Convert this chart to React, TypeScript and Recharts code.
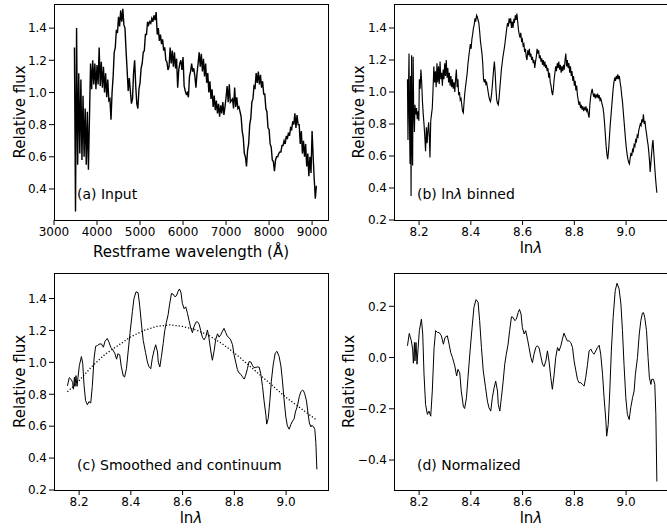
import { LineChart, Line, XAxis, YAxis } from 'recharts'

const FONT = '"DejaVu Sans", Verdana, sans-serif'

// (a) input spectrum, one sample every 25 Å starting at 3475 Å
const INPUT_START = 3475
const INPUT_STEP = 25
const inputFlux = [
  1.28, 0.26, 1.40, 0.55, 1.12, 0.62, 1.08, 0.58, // 3475
  0.98, 0.60, 0.90, 0.55, 0.88, 0.52, 0.85, 1.18, // 3675
  1.02, 1.20, 1.05, 1.18, 1.02, 1.17, 1.05, 1.28, // 3875
  1.04, 1.19, 1.03, 1.16, 1.00, 1.12, 0.97, 1.08, // 4075
  0.95, 0.96, 0.83, 1.00, 1.10, 1.25, 1.28, 1.39, // 4275
  1.37, 1.47, 1.41, 1.51, 1.44, 1.52, 1.42, 1.40, // 4475
  1.26, 1.14, 1.01, 1.09, 1.01, 0.93, 0.96, 1.12, // 4675
  1.20, 1.04, 0.93, 0.90, 1.02, 1.06, 1.15, 1.18, // 4875
  1.25, 1.26, 1.36, 1.36, 1.44, 1.42, 1.44, 1.43, // 5075
  1.46, 1.44, 1.48, 1.45, 1.50, 1.36, 1.40, 1.32, // 5275
  1.36, 1.30, 1.33, 1.26, 1.28, 1.20, 1.19, 1.14, // 5475
  1.16, 1.28, 1.18, 1.26, 1.16, 1.25, 1.15, 1.21, // 5675
  1.03, 1.14, 1.18, 1.20, 1.14, 1.22, 1.04, 1.01, // 5875
  0.99, 1.00, 0.97, 1.10, 1.13, 1.18, 1.13, 1.15, // 6075
  1.10, 1.03, 1.12, 1.18, 1.25, 1.16, 1.24, 1.13, // 6275
  1.21, 1.10, 1.18, 1.06, 1.12, 1.00, 1.07, 0.96, // 6475
  1.02, 0.91, 0.98, 0.89, 0.95, 0.87, 0.93, 0.85, // 6675
  0.92, 0.87, 0.94, 0.86, 0.91, 0.97, 1.04, 0.94, // 6875
  1.05, 0.94, 0.95, 0.96, 0.90, 1.03, 0.91, 0.97, // 7075
  0.90, 0.91, 0.88, 0.85, 0.76, 0.72, 0.62, 0.60, // 7275
  0.54, 0.64, 0.68, 0.80, 0.84, 0.94, 0.96, 1.04, // 7475
  1.03, 1.12, 1.06, 1.13, 1.05, 1.11, 1.03, 1.07, // 7675
  0.99, 0.99, 0.90, 0.88, 0.78, 0.77, 0.68, 0.66, // 7875
  0.58, 0.57, 0.51, 0.58, 0.60, 0.60, 0.62, 0.63, // 8075
  0.63, 0.67, 0.67, 0.70, 0.68, 0.73, 0.71, 0.75, // 8275
  0.73, 0.78, 0.77, 0.82, 0.80, 0.87, 0.78, 0.86, // 8475
  0.80, 0.80, 0.68, 0.76, 0.62, 0.70, 0.60, 0.68, // 8675
  0.54, 0.62, 0.48, 0.60, 0.50, 0.76, 0.60, 0.46, // 8875
  0.34, 0.42, // 9075
]

// (b) spectrum rebinned in ln(lambda): [ln lambda, flux]
const binnedPoints: [number, number][] = [
  [8.155, 1.08], [8.157, 0.70], [8.159, 1.0], [8.161, 1.24], [8.163, 0.8], [8.165, 0.55],
  [8.167, 1.1], [8.169, 0.35], [8.171, 1.23], [8.173, 0.7], [8.175, 0.54], [8.177, 1.22],
  [8.179, 0.9], [8.182, 0.75], [8.184, 0.92], [8.187, 0.86], [8.19, 0.9], [8.193, 0.83],
  [8.196, 0.88], [8.199, 0.82], [8.201, 1.08], [8.204, 1.02], [8.207, 1.14], [8.21, 1.06],
  [8.213, 0.94], [8.216, 0.86], [8.219, 0.8], [8.222, 0.72], [8.225, 0.63], [8.228, 0.78],
  [8.231, 0.68], [8.234, 0.76], [8.237, 0.81], [8.24, 0.7], [8.242, 0.59], [8.245, 0.82],
  [8.248, 0.86], [8.251, 0.9], [8.254, 1.02], [8.257, 1.16], [8.26, 1.06], [8.263, 1.13],
  [8.266, 1.03], [8.269, 1.18], [8.272, 1.06], [8.275, 1.16], [8.278, 1.05], [8.281, 1.19],
  [8.284, 1.08], [8.287, 1.12], [8.29, 1.04], [8.293, 1.14], [8.296, 1.08], [8.299, 1.18],
  [8.302, 1.1], [8.305, 1.2], [8.308, 1.09], [8.311, 1.15], [8.314, 1.06], [8.317, 1.12],
  [8.32, 1.04], [8.323, 1.1], [8.326, 1.03], [8.329, 1.08], [8.332, 1.02], [8.335, 1.06],
  [8.338, 1.0], [8.341, 1.08], [8.344, 1.14], [8.347, 1.03], [8.35, 1.08], [8.353, 0.98],
  [8.356, 1.0], [8.359, 0.95], [8.362, 0.96], [8.365, 0.92], [8.368, 0.88], [8.371, 0.87],
  [8.374, 0.94], [8.377, 1.0], [8.38, 1.04], [8.383, 1.08], [8.386, 1.12], [8.389, 1.18],
  [8.392, 1.22], [8.395, 1.26], [8.398, 1.3], [8.401, 1.27], [8.404, 1.33], [8.407, 1.36],
  [8.41, 1.4], [8.413, 1.42], [8.416, 1.46], [8.419, 1.44], [8.422, 1.48], [8.425, 1.47],
  [8.428, 1.45], [8.431, 1.43], [8.434, 1.38], [8.437, 1.32], [8.44, 1.28], [8.443, 1.24],
  [8.446, 1.18], [8.449, 1.08], [8.452, 1.06], [8.455, 1.08], [8.458, 1.05], [8.461, 1.06],
  [8.464, 1.03], [8.467, 1.0], [8.47, 0.97], [8.473, 0.95], [8.476, 0.94], [8.479, 0.97],
  [8.482, 1.02], [8.485, 1.08], [8.488, 1.14], [8.491, 1.19], [8.494, 1.12], [8.497, 1.02],
  [8.5, 0.95], [8.503, 0.93], [8.506, 0.92], [8.509, 0.96], [8.512, 1.02], [8.515, 1.08],
  [8.518, 1.14], [8.521, 1.18], [8.524, 1.22], [8.527, 1.25], [8.53, 1.28], [8.533, 1.32],
  [8.536, 1.36], [8.539, 1.4], [8.542, 1.43], [8.545, 1.41], [8.548, 1.46], [8.551, 1.43],
  [8.554, 1.46], [8.557, 1.4], [8.56, 1.44], [8.563, 1.4], [8.566, 1.45], [8.569, 1.44],
  [8.572, 1.48], [8.575, 1.45], [8.578, 1.49], [8.581, 1.44], [8.584, 1.39], [8.587, 1.36],
  [8.59, 1.34], [8.593, 1.37], [8.596, 1.32], [8.599, 1.33], [8.602, 1.29], [8.605, 1.3],
  [8.608, 1.25], [8.611, 1.27], [8.614, 1.22], [8.617, 1.2], [8.62, 1.26], [8.623, 1.23],
  [8.626, 1.27], [8.629, 1.22], [8.632, 1.24], [8.635, 1.2], [8.638, 1.22], [8.641, 1.18],
  [8.644, 1.2], [8.647, 1.15], [8.65, 1.19], [8.653, 1.22], [8.656, 1.27], [8.659, 1.24],
  [8.662, 1.26], [8.665, 1.21], [8.668, 1.23], [8.671, 1.19], [8.674, 1.21], [8.677, 1.17],
  [8.68, 1.2], [8.683, 1.16], [8.686, 1.19], [8.689, 1.15], [8.692, 1.17], [8.695, 1.13],
  [8.698, 1.15], [8.701, 1.09], [8.704, 1.12], [8.707, 1.06], [8.71, 1.04], [8.713, 1.0],
  [8.716, 0.98], [8.719, 1.02], [8.722, 1.08], [8.725, 1.12], [8.728, 1.16], [8.731, 1.13],
  [8.734, 1.18], [8.737, 1.15], [8.74, 1.19], [8.743, 1.14], [8.746, 1.17], [8.749, 1.12],
  [8.752, 1.16], [8.755, 1.13], [8.758, 1.17], [8.761, 1.14], [8.764, 1.2], [8.767, 1.24],
  [8.77, 1.16], [8.773, 1.2], [8.776, 1.15], [8.779, 1.18], [8.782, 1.12], [8.785, 1.16],
  [8.788, 1.1], [8.791, 1.13], [8.794, 1.07], [8.797, 1.1], [8.8, 1.04], [8.803, 1.07],
  [8.806, 1.01], [8.809, 1.04], [8.812, 0.98], [8.815, 0.95], [8.818, 0.92], [8.821, 0.94],
  [8.824, 0.9], [8.827, 0.92], [8.83, 0.89], [8.833, 0.91], [8.836, 0.88], [8.839, 0.9],
  [8.842, 0.89], [8.845, 0.91], [8.848, 0.88], [8.851, 0.89], [8.854, 0.86], [8.857, 0.84],
  [8.86, 0.92], [8.863, 0.97], [8.866, 1.0], [8.869, 1.02], [8.872, 0.99], [8.875, 0.97],
  [8.878, 0.99], [8.881, 0.96], [8.884, 0.98], [8.887, 0.97], [8.89, 0.99], [8.893, 0.96],
  [8.896, 0.98], [8.899, 0.95], [8.902, 0.96], [8.905, 0.94], [8.908, 0.92], [8.911, 0.9],
  [8.914, 0.86], [8.917, 0.8], [8.92, 0.73], [8.923, 0.66], [8.926, 0.61], [8.929, 0.58],
  [8.932, 0.63], [8.935, 0.7], [8.938, 0.78], [8.941, 0.84], [8.944, 0.9], [8.947, 0.96],
  [8.95, 1.02], [8.953, 1.06], [8.956, 1.09], [8.959, 1.07], [8.962, 1.1], [8.965, 1.08],
  [8.968, 1.11], [8.971, 1.08], [8.974, 1.1], [8.977, 1.06], [8.98, 1.03], [8.983, 0.98],
  [8.986, 0.94], [8.989, 0.88], [8.992, 0.82], [8.995, 0.76], [8.998, 0.7], [9.001, 0.65],
  [9.004, 0.61], [9.007, 0.58], [9.01, 0.56], [9.013, 0.55], [9.016, 0.59], [9.019, 0.62],
  [9.022, 0.6], [9.025, 0.64], [9.028, 0.63], [9.031, 0.67], [9.034, 0.66], [9.037, 0.7],
  [9.04, 0.69], [9.043, 0.73], [9.046, 0.72], [9.049, 0.76], [9.052, 0.78], [9.055, 0.8],
  [9.058, 0.79], [9.061, 0.83], [9.064, 0.81], [9.067, 0.86], [9.07, 0.8], [9.073, 0.82],
  [9.076, 0.77], [9.079, 0.74], [9.082, 0.7], [9.085, 0.67], [9.088, 0.62], [9.091, 0.56],
  [9.093, 0.5], [9.096, 0.56], [9.099, 0.62], [9.102, 0.68], [9.104, 0.7], [9.107, 0.62],
  [9.11, 0.55], [9.113, 0.48], [9.116, 0.42], [9.119, 0.37],
]

// (c) and (d) share the ln(lambda) sampling
const smoothLn = [
  8.155, 8.162, 8.17, 8.175, 8.178, 8.182, 8.184, 8.188, 8.192, 8.196,
  8.201, 8.209, 8.214, 8.219, 8.225, 8.232, 8.238, 8.245, 8.251, 8.258,
  8.264, 8.271, 8.277, 8.286, 8.294, 8.3, 8.309, 8.316, 8.322, 8.329,
  8.338, 8.345, 8.35, 8.357, 8.363, 8.371, 8.376, 8.383, 8.389, 8.397,
  8.406, 8.412, 8.42, 8.428, 8.434, 8.441, 8.448, 8.457, 8.464, 8.47,
  8.477, 8.483, 8.49, 8.496, 8.503, 8.506, 8.512, 8.518, 8.525, 8.531,
  8.537, 8.544, 8.55, 8.557, 8.563, 8.57, 8.576, 8.583, 8.588, 8.594,
  8.599, 8.606, 8.612, 8.619, 8.625, 8.632, 8.638, 8.644, 8.651, 8.657,
  8.664, 8.67, 8.677, 8.683, 8.69, 8.696, 8.702, 8.709, 8.715, 8.722,
  8.728, 8.735, 8.741, 8.748, 8.754, 8.76, 8.767, 8.773, 8.78, 8.786,
  8.793, 8.799, 8.806, 8.812, 8.818, 8.825, 8.831, 8.838, 8.844, 8.851,
  8.857, 8.864, 8.87, 8.876, 8.883, 8.889, 8.896, 8.902, 8.909, 8.915,
  8.922, 8.925, 8.931, 8.937, 8.943, 8.95, 8.958, 8.965, 8.973, 8.98,
  8.986, 8.992, 8.999, 9.005, 9.012, 9.018, 9.025, 9.031, 9.036, 9.044,
  9.051, 9.057, 9.063, 9.067, 9.072, 9.079, 9.085, 9.09, 9.096, 9.099,
  9.106, 9.111, 9.115, 9.119,
]

const smoothFlux = [
  0.853, 0.904, 0.892, 0.874, 0.832, 0.908, 0.849, 0.917, 0.85, 0.908,
  0.98, 1.036, 0.994, 0.859, 0.76, 0.734, 0.754, 0.745, 0.849, 1.027,
  1.101, 1.105, 1.114, 1.116, 1.095, 1.132, 1.15, 1.124, 1.095, 1.082,
  1.056, 1.02, 1.054, 1.047, 0.973, 0.914, 0.908, 0.961, 1.058, 1.187,
  1.318, 1.399, 1.442, 1.437, 1.358, 1.24, 1.136, 1.061, 1.002, 0.973,
  0.96, 1.026, 1.076, 1.11, 1.065, 1.002, 0.971, 1.035, 1.117, 1.199,
  1.248, 1.298, 1.365, 1.431, 1.428, 1.411, 1.417, 1.446, 1.46, 1.436,
  1.37, 1.336, 1.348, 1.306, 1.262, 1.212, 1.186, 1.223, 1.251, 1.255,
  1.239, 1.199, 1.155, 1.141, 1.162, 1.203, 1.153, 1.071, 1.013, 1.074,
  1.143, 1.179, 1.158, 1.174, 1.195, 1.213, 1.186, 1.163, 1.154, 1.141,
  1.11, 1.047, 0.997, 0.954, 0.934, 0.925, 0.91, 0.895, 0.92, 0.963,
  1.005, 1.002, 0.981, 0.966, 0.969, 0.971, 0.97, 0.929, 0.848, 0.758,
  0.669, 0.613, 0.648, 0.754, 0.882, 0.983, 1.058, 1.069, 1.037, 0.977,
  0.884, 0.77, 0.658, 0.602, 0.581, 0.609, 0.632, 0.646, 0.689, 0.727,
  0.785, 0.815, 0.826, 0.823, 0.803, 0.757, 0.678, 0.62, 0.595, 0.605,
  0.597, 0.579, 0.499, 0.329,
]

const normFlux = [
  0.046, 0.094, 0.065, 0.033, -0.022, 0.059, -0.013, 0.059, -0.026, 0.033,
  0.105, 0.15, 0.092, -0.065, -0.183, -0.222, -0.209, -0.229, -0.131, 0.039,
  0.105, 0.098, 0.098, 0.085, 0.052, 0.078, 0.085, 0.052, 0.02, 0.0,
  -0.033, -0.072, -0.046, -0.059, -0.131, -0.19, -0.199, -0.157, -0.078, 0.026,
  0.131, 0.196, 0.226, 0.216, 0.144, 0.039, -0.052, -0.118, -0.17, -0.196,
  -0.209, -0.157, -0.118, -0.092, -0.131, -0.183, -0.209, -0.157, -0.092, -0.026,
  0.013, 0.052, 0.105, 0.159, 0.157, 0.144, 0.15, 0.176, 0.188, 0.17,
  0.118, 0.092, 0.105, 0.072, 0.039, 0.0, -0.02, 0.013, 0.039, 0.046,
  0.037, 0.007, -0.026, -0.035, -0.013, 0.026, -0.013, -0.078, -0.124, -0.065,
  0.0, 0.039, 0.026, 0.046, 0.072, 0.095, 0.078, 0.065, 0.065, 0.059,
  0.039, -0.013, -0.052, -0.085, -0.098, -0.098, -0.105, -0.111, -0.078, -0.026,
  0.026, 0.033, 0.02, 0.013, 0.026, 0.039, 0.048, 0.013, -0.065, -0.157,
  -0.248, -0.307, -0.261, -0.131, 0.026, 0.157, 0.261, 0.29, 0.268, 0.209,
  0.105, -0.026, -0.157, -0.222, -0.242, -0.196, -0.157, -0.131, -0.065, 0.0,
  0.092, 0.144, 0.173, 0.176, 0.157, 0.105, 0.0, -0.078, -0.105, -0.085,
  -0.085, -0.105, -0.222, -0.484,
]

// (c) continuum fit (dotted)
const continuumLn = [
  8.155, 8.2, 8.25, 8.3, 8.35, 8.4, 8.45, 8.5, 8.55, 8.6, 8.65,
  8.7, 8.75, 8.8, 8.85, 8.9, 8.95, 9.0, 9.05, 9.1, 9.119,
]
const continuumFlux = [
  0.815, 0.885, 0.975, 1.05, 1.105, 1.16, 1.2, 1.225, 1.235, 1.225, 1.205,
  1.17, 1.12, 1.06, 0.99, 0.92, 0.85, 0.78, 0.72, 0.66, 0.637,
]

const waveTicks = [3000, 4000, 5000, 6000, 7000, 8000, 9000]
const lnTicks = [8.2, 8.4, 8.6, 8.8, 9.0]
const fluxTicksA = [0.4, 0.6, 0.8, 1.0, 1.2, 1.4]
const fluxTicks = [0.2, 0.4, 0.6, 0.8, 1.0, 1.2, 1.4]
const normTicks = [-0.4, -0.2, 0.0, 0.2]

type Pt = { x: number; y: number }

const inputData: Pt[] = inputFlux.map((y, i) => ({ x: INPUT_START + i * INPUT_STEP, y }))
const binnedData: Pt[] = binnedPoints.map(([x, y]) => ({ x, y }))
const smoothData: Pt[] = smoothLn.map((x, i) => ({ x, y: smoothFlux[i] }))
const normData: Pt[] = smoothLn.map((x, i) => ({ x, y: normFlux[i] }))
const continuumData: Pt[] = continuumLn.map((x, i) => ({ x, y: continuumFlux[i] }))

const fmt1 = (v: number) => v.toFixed(1).replace('-', '\u2212')
const fmt0 = (v: number) => String(v)

const tickStyle = { fontSize: 12, fill: '#000', fontFamily: FONT }

const LN_LABEL = (
  <>
    ln<tspan fontStyle="italic">λ</tspan>
  </>
)

interface Series {
  data: Pt[]
  width?: number
  dash?: string
}

interface PanelProps {
  left: number
  top: number
  width: number
  height: number
  axisW: number
  mTop: number
  plotW: number
  plotH: number
  xDomain: [number, number]
  yDomain: [number, number]
  xTicks: number[]
  yTicks: number[]
  xFmt: (v: number) => string
  series: Series[]
  xLabel: React.ReactNode
  xLabelY: number
  yLabelX: number
  note: React.ReactNode
  noteX: number
  noteY: number
}

function Panel(p: PanelProps) {
  const xAxisH = p.height - p.mTop - p.plotH
  return (
    <div style={{ position: 'absolute', left: p.left, top: p.top }}>
      <LineChart
        width={p.width}
        height={p.height}
        margin={{ top: p.mTop, right: p.width - p.axisW - p.plotW, bottom: 0, left: 0 }}
      >
        <XAxis
          type="number"
          dataKey="x"
          domain={p.xDomain}
          ticks={p.xTicks}
          interval={0}
          allowDataOverflow
          height={xAxisH}
          tickSize={5}
          tickMargin={2}
          tickFormatter={p.xFmt}
          tick={tickStyle}
          axisLine={false}
          tickLine={{ stroke: '#000' }}
        />
        <YAxis
          type="number"
          dataKey="y"
          domain={p.yDomain}
          ticks={p.yTicks}
          interval={0}
          allowDataOverflow
          width={p.axisW}
          tickSize={5}
          tickMargin={2}
          tickFormatter={fmt1}
          tick={tickStyle}
          axisLine={false}
          tickLine={{ stroke: '#000' }}
        />
        {p.series.map((s, i) => (
          <Line
            key={i}
            data={s.data}
            dataKey="y"
            type="linear"
            stroke="#000"
            strokeWidth={s.width ?? 1}
            strokeDasharray={s.dash}
            dot={false}
            activeDot={false}
            isAnimationActive={false}
          />
        ))}
        <rect
          x={p.axisW}
          y={p.mTop}
          width={p.plotW}
          height={p.plotH}
          fill="none"
          stroke="#000"
          strokeWidth={1}
          shapeRendering="crispEdges"
        />
        <text
          x={p.axisW + p.plotW / 2}
          y={p.xLabelY}
          textAnchor="middle"
          fontSize={15}
          fontFamily={FONT}
          fill="#000"
        >
          {p.xLabel}
        </text>
        <text
          x={p.yLabelX}
          y={p.mTop + p.plotH / 2}
          transform={`rotate(-90 ${p.yLabelX} ${p.mTop + p.plotH / 2})`}
          textAnchor="middle"
          fontSize={15}
          fontFamily={FONT}
          fill="#000"
        >
          Relative flux
        </text>
        <text x={p.noteX} y={p.noteY} fontSize={14} fontFamily={FONT} fill="#000">
          {p.note}
        </text>
      </LineChart>
    </div>
  )
}

export default function App() {
  return (
    <div
      style={{
        position: 'absolute',
        left: 0,
        top: 0,
        width: 667,
        height: 529,
        overflow: 'hidden',
        background: '#fff',
      }}
    >
      <Panel
        left={0}
        top={0}
        width={334}
        height={265}
        axisW={54}
        mTop={4}
        plotW={274}
        plotH={216}
        xDomain={[3000, 9370]}
        yDomain={[0.207, 1.55]}
        xTicks={waveTicks}
        yTicks={fluxTicksA}
        xFmt={fmt0}
        series={[{ data: inputData, width: 1.4 }]}
        xLabel="Restframe wavelength (Å)"
        xLabelY={257}
        yLabelX={25}
        note="(a) Input"
        noteX={77}
        noteY={199}
      />
      <Panel
        left={334}
        top={0}
        width={334}
        height={265}
        axisW={60}
        mTop={4}
        plotW={274}
        plotH={216}
        xDomain={[8.103, 9.162]}
        yDomain={[0.2, 1.55]}
        xTicks={lnTicks}
        yTicks={fluxTicks}
        xFmt={fmt1}
        series={[{ data: binnedData, width: 1.15 }]}
        xLabel={LN_LABEL}
        xLabelY={253}
        yLabelX={30}
        note={
          <>
            (b) ln<tspan fontStyle="italic">λ</tspan> binned
          </>
        }
        noteX={83}
        noteY={199}
      />
      <Panel
        left={0}
        top={265}
        width={334}
        height={264}
        axisW={54}
        mTop={8}
        plotW={274}
        plotH={217}
        xDomain={[8.103, 9.162]}
        yDomain={[0.2, 1.56]}
        xTicks={lnTicks}
        yTicks={fluxTicks}
        xFmt={fmt1}
        series={[{ data: smoothData }, { data: continuumData, width: 1.3, dash: '1.2 2' }]}
        xLabel={LN_LABEL}
        xLabelY={258}
        yLabelX={25}
        note="(c) Smoothed and continuum"
        noteX={77}
        noteY={205}
      />
      <Panel
        left={334}
        top={265}
        width={334}
        height={264}
        axisW={60}
        mTop={8}
        plotW={274}
        plotH={217}
        xDomain={[8.103, 9.162]}
        yDomain={[-0.517, 0.33]}
        xTicks={lnTicks}
        yTicks={normTicks}
        xFmt={fmt1}
        series={[{ data: normData }]}
        xLabel={LN_LABEL}
        xLabelY={258}
        yLabelX={20}
        note="(d) Normalized"
        noteX={83}
        noteY={205}
      />
    </div>
  )
}
